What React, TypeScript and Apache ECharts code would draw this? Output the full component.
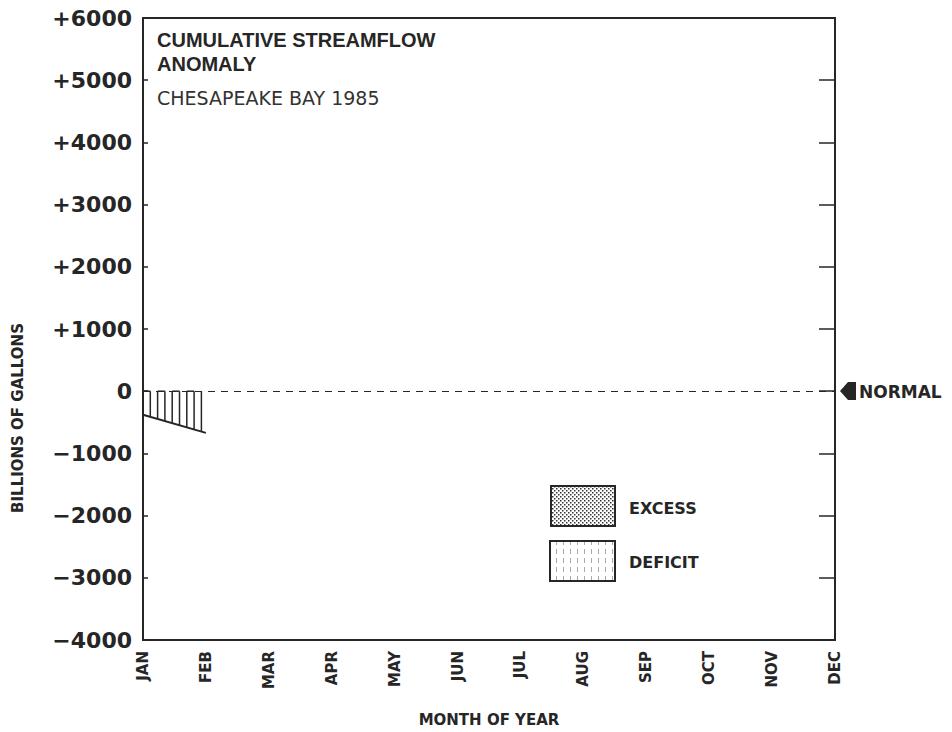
import React, { useEffect, useRef } from 'react';
import * as echarts from 'echarts';

const months = ['JAN', 'FEB', 'MAR', 'APR', 'MAY', 'JUN', 'JUL', 'AUG', 'SEP', 'OCT', 'NOV', 'DEC'];
const anomaly = [-380, -670];
const yMin = -4000;
const yMax = 6000;
const yStep = 1000;
const titleLine1 = 'CUMULATIVE STREAMFLOW';
const titleLine2 = 'ANOMALY';
const subtitle = 'CHESAPEAKE BAY 1985';
const xName = 'MONTH OF YEAR';
const yName = 'BILLIONS OF GALLONS';
const legendItems = ['EXCESS', 'DEFICIT'];
const normalLabel = 'NORMAL';

const INK = '#262626';
const FONT = 'DejaVu Sans';

function makePattern(kind: 'dots' | 'stripes'): string {
  const c = document.createElement('canvas');
  const ctx = c.getContext('2d')!;
  if (kind === 'dots') {
    c.width = 4;
    c.height = 4;
    ctx.fillStyle = '#fff';
    ctx.fillRect(0, 0, 4, 4);
    ctx.fillStyle = '#333';
    ctx.fillRect(0, 0, 1.5, 1.5);
    ctx.fillRect(2, 2, 1.5, 1.5);
  } else {
    c.width = 7;
    c.height = 9;
    ctx.fillStyle = '#fff';
    ctx.fillRect(0, 0, 7, 9);
    ctx.fillStyle = '#aaa';
    ctx.fillRect(3, 0, 1, 5);
  }
  return c.toDataURL();
}

export default function App() {
  const ref = useRef<HTMLDivElement>(null);
  useEffect(() => {
    document.body.style.margin = '0';
    const chart = echarts.init(ref.current!, null, { renderer: 'svg' });
    const dots = makePattern('dots');
    const stripes = makePattern('stripes');

    const option: any = {
      animation: false,
      backgroundColor: '#fff',
      grid: { left: 143, right: 117, top: 18, bottom: 92, show: true, borderColor: INK, borderWidth: 2, backgroundColor: 'transparent' },
      xAxis: {
        type: 'category',
        data: months,
        boundaryGap: false,
        axisLine: { show: false },
        axisTick: { show: false },
        splitLine: { show: false },
        axisLabel: { rotate: 90, margin: 11, fontSize: 15, fontWeight: 'bold', color: INK, fontFamily: FONT, interval: 0 },
      },
      yAxis: [
        {
          type: 'value',
          min: yMin,
          max: yMax,
          interval: yStep,
          axisLine: { show: false },
          splitLine: { show: false },
          axisTick: { show: true, inside: true, length: 5, lineStyle: { color: INK, width: 1.5 } },
          axisLabel: {
            margin: 11,
            fontSize: 22,
            fontWeight: 'bold',
            color: INK,
            fontFamily: FONT,
            formatter: (v: number) => (v > 0 ? '+' + v : v < 0 ? '\u2212' + Math.abs(v) : '0'),
          },
        },
        {
          type: 'value',
          position: 'right',
          min: yMin,
          max: yMax,
          interval: yStep,
          axisLine: { show: false },
          splitLine: { show: false },
          axisLabel: { show: false },
          axisTick: { show: true, inside: true, length: 16, lineStyle: { color: INK, width: 1.5 } },
        },
      ],
      series: [
        {
          type: 'custom',
          data: anomaly.map((v, i) => [i, v]),
          renderItem: (params: any, api: any) => {
            const i = params.dataIndex;
            if (i >= anomaly.length - 1) return null;
            const p0 = api.coord([i, 0]);
            const p1 = api.coord([i + 1, 0]);
            const q0 = api.coord([i, anomaly[i]]);
            const q1 = api.coord([i + 1, anomaly[i + 1]]);
            const children: any[] = [];
            const xs: number[] = [];
            const step = 7.3;
            for (let x = p0[0]; x <= p1[0] + 0.5; x += step) xs.push(Math.min(x, p1[0]));
            xs.forEach((x) => {
              const t = (x - p0[0]) / (p1[0] - p0[0]);
              const yb = q0[1] + t * (q1[1] - q0[1]);
              children.push({ type: 'line', shape: { x1: x, y1: p0[1], x2: x, y2: yb }, style: { stroke: INK, lineWidth: 1.5 } });
            });
            for (let k = 0; k + 1 < xs.length; k += 2) {
              children.push({ type: 'line', shape: { x1: xs[k], y1: p0[1], x2: xs[k + 1], y2: p0[1] }, style: { stroke: INK, lineWidth: 1.5 } });
            }
            children.push({ type: 'line', shape: { x1: q0[0], y1: q0[1], x2: q1[0], y2: q1[1] }, style: { stroke: INK, lineWidth: 2 } });
            return { type: 'group', children };
          },
          markLine: {
            silent: true,
            symbol: 'none',
            label: { show: false },
            lineStyle: { color: INK, type: [7, 6], width: 1.2 },
            data: [{ yAxis: 0 }],
          },
        },
      ],
      graphic: [
        { type: 'text', x: 157, y: 40, style: { text: titleLine1, font: 'bold 20px "Liberation Sans"', fill: INK, verticalAlign: 'middle' } },
        { type: 'text', x: 157, y: 64, style: { text: titleLine2, font: 'bold 20px "Liberation Sans"', fill: INK, verticalAlign: 'middle' } },
        { type: 'text', x: 157, y: 98, style: { text: subtitle, font: `19px "${FONT}"`, fill: '#333', verticalAlign: 'middle' } },
        { type: 'text', x: 489, y: 720, style: { text: xName, font: `bold 15px "${FONT}"`, fill: INK, align: 'center', verticalAlign: 'middle' } },
        { type: 'text', x: 18, y: 418, rotation: Math.PI / 2, style: { text: yName, font: `bold 15px "${FONT}"`, fill: INK, align: 'center', verticalAlign: 'middle' } },
        { type: 'rect', shape: { x: 551, y: 486, width: 64, height: 40 }, style: { fill: { image: dots, repeat: 'repeat' }, stroke: INK, lineWidth: 2 } },
        { type: 'rect', shape: { x: 550, y: 541, width: 65, height: 40 }, style: { fill: { image: stripes, repeat: 'repeat' }, stroke: INK, lineWidth: 2 } },
        { type: 'text', x: 629, y: 508, style: { text: legendItems[0], font: `bold 16px "${FONT}"`, fill: INK, verticalAlign: 'middle' } },
        { type: 'text', x: 629, y: 562, style: { text: legendItems[1], font: `bold 16px "${FONT}"`, fill: INK, verticalAlign: 'middle' } },
        { type: 'polygon', shape: { points: [[840, 391], [848, 382], [856, 382], [856, 400], [848, 400]] }, style: { fill: INK } },
        { type: 'text', x: 859, y: 392, style: { text: normalLabel, font: `bold 17px "${FONT}"`, fill: INK, verticalAlign: 'middle' } },
      ],
    };
    chart.setOption(option);
    return () => chart.dispose();
  }, []);
  return <div ref={ref} style={{ width: 952, height: 732, background: '#fff' }} />;
}
